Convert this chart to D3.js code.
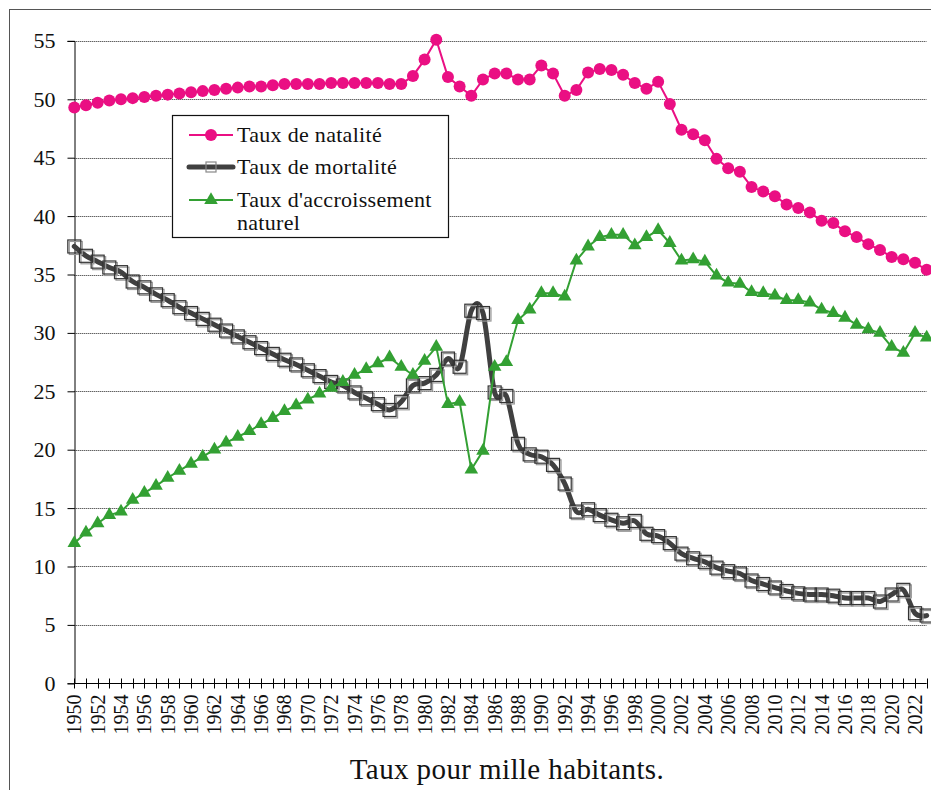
<!DOCTYPE html>
<html>
<head>
<meta charset="utf-8">
<script src="https://cdn.jsdelivr.net/npm/d3@7"></script>
<style>
  body { margin: 0; background: #fff; }
  svg { display: block; }
</style>
</head>
<body>
<div id="chart"></div>
<script>
// years 1950 -> 2023
var years = d3.range(1950, 2024);

// taux de natalite (pour mille)
var natalite = [
  49.3, 49.5, 49.7, 49.9, 50.0, 50.1, 50.2, 50.3, 50.4, 50.5,
  50.6, 50.7, 50.8, 50.9, 51.0, 51.1, 51.1, 51.2, 51.3, 51.3,
  51.3, 51.3, 51.4, 51.4, 51.4, 51.4, 51.4, 51.3, 51.3, 52.0,
  53.4, 55.1, 51.9, 51.1, 50.3, 51.7, 52.2, 52.2, 51.7, 51.7,
  52.9, 52.2, 50.3, 50.8, 52.3, 52.6, 52.5, 52.1, 51.4, 50.9,
  51.5, 49.6, 47.4, 47.0, 46.5, 44.9, 44.1, 43.8, 42.5, 42.1,
  41.7, 41.0, 40.7, 40.3, 39.6, 39.4, 38.7, 38.2, 37.6, 37.1,
  36.5, 36.3, 36.0, 35.4
];

// taux de mortalite (pour mille)
var mortalite = [
  37.4, 36.6, 36.1, 35.6, 35.2, 34.4, 33.9, 33.3, 32.8, 32.2,
  31.7, 31.2, 30.7, 30.2, 29.7, 29.2, 28.7, 28.2, 27.7, 27.3,
  26.8, 26.3, 25.8, 25.5, 24.9, 24.4, 23.9, 23.4, 24.1, 25.5,
  25.7, 26.4, 27.8, 27.1, 31.9, 31.7, 24.9, 24.6, 20.5, 19.6,
  19.4, 18.7, 17.1, 14.7, 14.9, 14.4, 14.0, 13.7, 13.9, 12.8,
  12.6, 12.0, 11.1, 10.7, 10.4, 9.9, 9.6, 9.4, 8.8, 8.5,
  8.2, 7.9, 7.7, 7.6, 7.6, 7.5, 7.3, 7.3, 7.3, 7.0,
  7.6, 8.0, 6.0, 5.8
];

// taux d'accroissement naturel (pour mille)
var accroissement = [
  12.0, 12.9, 13.7, 14.4, 14.7, 15.7, 16.3, 16.9, 17.6, 18.2,
  18.8, 19.4, 20.0, 20.6, 21.1, 21.6, 22.2, 22.7, 23.3, 23.8,
  24.3, 24.8, 25.3, 25.8, 26.4, 26.9, 27.4, 27.9, 27.1, 26.4,
  27.6, 28.8, 23.9, 24.1, 18.3, 19.9, 27.1, 27.5, 31.1, 32.0,
  33.4, 33.4, 33.1, 36.2, 37.4, 38.2, 38.4, 38.4, 37.5, 38.2,
  38.8, 37.7, 36.2, 36.3, 36.1, 34.9, 34.3, 34.2, 33.5, 33.4,
  33.2, 32.8, 32.8, 32.6, 32.0, 31.7, 31.3, 30.7, 30.3, 30.0,
  28.8, 28.3, 30.0, 29.6
];

var yTicks = [0, 5, 10, 15, 20, 25, 30, 35, 40, 45, 50, 55];
var yearLabels = years.filter(function(d) { return d % 2 == 0; });
var seriesNames = ["Taux de natalité", "Taux de mortalité", ["Taux d'accroissement", "naturel"]];
var title = "Taux pour mille habitants.";

var width = 931,
    height = 790;

var FONT = "'Liberation Serif', 'Times New Roman', serif";

var pink = "#ea0f83",
    dark = "#404040",
    green = "#33a033";

var svg = d3.select("#chart")
  .append("svg")
    .attr("width", width)
    .attr("height", height);

// outer frame of the chart area
svg.append("rect")
  .attr("x", 9.5).attr("y", 9.5)
  .attr("width", 1000).attr("height", 1000)
  .attr("fill", "none")
  .attr("stroke", "#555")
  .attr("stroke-width", 1);

var x = d3.scaleLinear().domain([1950, 2023]).range([74.3, 926.7]);
var y = d3.scaleLinear().domain([0, 55]).range([683.3, 40.9]);

// dotted gridlines
svg.append("g")
  .selectAll("line")
  .data(yTicks.filter(function(d) { return d > 0; }))
  .enter()
  .append("line")
    .attr("x1", x(1950)).attr("x2", x(2023))
    .attr("y1", function(d) { return Math.round(y(d)) + 0.5; })
    .attr("y2", function(d) { return Math.round(y(d)) + 0.5; })
    .attr("stroke", "#222")
    .attr("stroke-width", 1)
    .attr("stroke-dasharray", "1,1");

// y axis
var yAxis = svg.append("g")
  .attr("transform", "translate(" + (Math.round(x(1950)) + 0.5) + ",0)")
  .call(d3.axisLeft(y).tickValues(yTicks).tickSize(7).tickPadding(12).tickFormat(d3.format("d")));
yAxis.select(".domain").attr("stroke", "#000");
yAxis.selectAll(".tick line").attr("stroke", "#000");
yAxis.selectAll(".tick text")
  .style("font-family", FONT)
  .style("font-size", "22px")
  .attr("fill", "#111");

// x axis with crossing ticks
var y0 = Math.round(y(0)) + 0.5;
var xAxis = svg.append("g");
xAxis.append("line")
  .attr("x1", x(1950)).attr("x2", x(2023))
  .attr("y1", y0).attr("y2", y0)
  .attr("stroke", "#000");
xAxis.selectAll(".xtick")
  .data(years)
  .enter()
  .append("line")
    .attr("class", "xtick")
    .attr("x1", function(d) { return Math.round(x(d)) + 0.5; })
    .attr("x2", function(d) { return Math.round(x(d)) + 0.5; })
    .attr("y1", y0 - 5).attr("y2", y0 + 5)
    .attr("stroke", "#000");
xAxis.selectAll(".xlabel")
  .data(yearLabels)
  .enter()
  .append("text")
    .attr("class", "xlabel")
    .attr("transform", function(d) { return "translate(" + (x(d) + 7) + "," + (y0 + 11) + ") rotate(-90)"; })
    .attr("text-anchor", "end")
    .style("font-family", FONT)
    .style("font-size", "20px")
    .attr("fill", "#111")
    .text(function(d) { return d; });

// line generators
var lineStraight = d3.line()
  .x(function(d) { return x(d[0]); })
  .y(function(d) { return y(d[1]); });
var lineSmooth = d3.line()
  .x(function(d) { return x(d[0]); })
  .y(function(d) { return y(d[1]); })
  .curve(d3.curveCatmullRom.alpha(0));

var natData = years.map(function(d, i) { return [d, natalite[i]]; });
var morData = years.map(function(d, i) { return [d, mortalite[i]]; });
var accData = years.map(function(d, i) { return [d, accroissement[i]]; });

// natalite
svg.append("path")
  .datum(natData)
  .attr("d", lineStraight)
  .attr("fill", "none")
  .attr("stroke", pink)
  .attr("stroke-width", 2);
svg.append("g")
  .selectAll("circle")
  .data(natData)
  .enter()
  .append("circle")
    .attr("cx", function(d) { return x(d[0]); })
    .attr("cy", function(d) { return y(d[1]); })
    .attr("r", 6)
    .attr("fill", pink);

// mortalite
var sq = 13;
svg.append("path")
  .datum(morData)
  .attr("d", lineSmooth)
  .attr("fill", "none")
  .attr("stroke", dark)
  .attr("stroke-width", 5)
  .attr("stroke-linecap", "round");
var squares = svg.append("g");
squares.selectAll(".sqshadow")
  .data(morData)
  .enter()
  .append("rect")
    .attr("class", "sqshadow")
    .attr("x", function(d) { return x(d[0]) - sq / 2 + 1.5; })
    .attr("y", function(d) { return y(d[1]) - sq / 2 + 1.5; })
    .attr("width", sq).attr("height", sq)
    .attr("fill", "none")
    .attr("stroke", "#999")
    .attr("stroke-width", 1.2);
squares.selectAll(".sq")
  .data(morData)
  .enter()
  .append("rect")
    .attr("class", "sq")
    .attr("x", function(d) { return x(d[0]) - sq / 2; })
    .attr("y", function(d) { return y(d[1]) - sq / 2; })
    .attr("width", sq).attr("height", sq)
    .attr("fill", "none")
    .attr("stroke", "#333")
    .attr("stroke-width", 1.2);

// accroissement
var tri = d3.symbol().type(d3.symbolTriangle).size(80);
svg.append("path")
  .datum(accData)
  .attr("d", lineStraight)
  .attr("fill", "none")
  .attr("stroke", green)
  .attr("stroke-width", 2);
svg.append("g")
  .selectAll("path")
  .data(accData)
  .enter()
  .append("path")
    .attr("d", tri)
    .attr("transform", function(d) { return "translate(" + x(d[0]) + "," + y(d[1]) + ")"; })
    .attr("fill", green);

// legend
var legend = svg.append("g");
legend.append("rect")
  .attr("x", 172.5).attr("y", 115.5)
  .attr("width", 276).attr("height", 122)
  .attr("fill", "#fff")
  .attr("stroke", "#111")
  .attr("stroke-width", 1.2);

var rows = [135, 167, 200];
// natalite key
legend.append("line").attr("x1", 189).attr("x2", 233).attr("y1", rows[0]).attr("y2", rows[0])
  .attr("stroke", pink).attr("stroke-width", 2);
legend.append("circle").attr("cx", 211).attr("cy", rows[0]).attr("r", 6).attr("fill", pink);
// mortalite key
legend.append("line").attr("x1", 189).attr("x2", 233).attr("y1", rows[1]).attr("y2", rows[1])
  .attr("stroke", dark).attr("stroke-width", 5).attr("stroke-linecap", "round");
legend.append("rect").attr("x", 206).attr("y", rows[1] - 5).attr("width", 10).attr("height", 10)
  .attr("fill", "none").attr("stroke", "#888").attr("stroke-width", 1.2);
// accroissement key
legend.append("line").attr("x1", 189).attr("x2", 233).attr("y1", rows[2]).attr("y2", rows[2])
  .attr("stroke", green).attr("stroke-width", 2);
legend.append("path").attr("d", tri).attr("transform", "translate(211," + rows[2] + ")").attr("fill", green);

seriesNames.forEach(function(name, i) {
  var lines = Array.isArray(name) ? name : [name];
  var t = legend.append("text")
    .attr("x", 237)
    .attr("y", rows[i] + 7)
    .style("font-family", FONT)
    .style("font-size", "22px")
    .style("letter-spacing", "0.3px")
    .attr("fill", "#111");
  lines.forEach(function(l, j) {
    t.append("tspan").attr("x", 237).attr("dy", j == 0 ? 0 : 23).text(l);
  });
});

// caption
svg.append("text")
  .attr("x", 507)
  .attr("y", 779)
  .attr("text-anchor", "middle")
  .style("font-family", FONT)
  .style("font-size", "29px")
  .style("letter-spacing", "0.4px")
  .attr("fill", "#111")
  .text(title);
</script>
</body>
</html>
